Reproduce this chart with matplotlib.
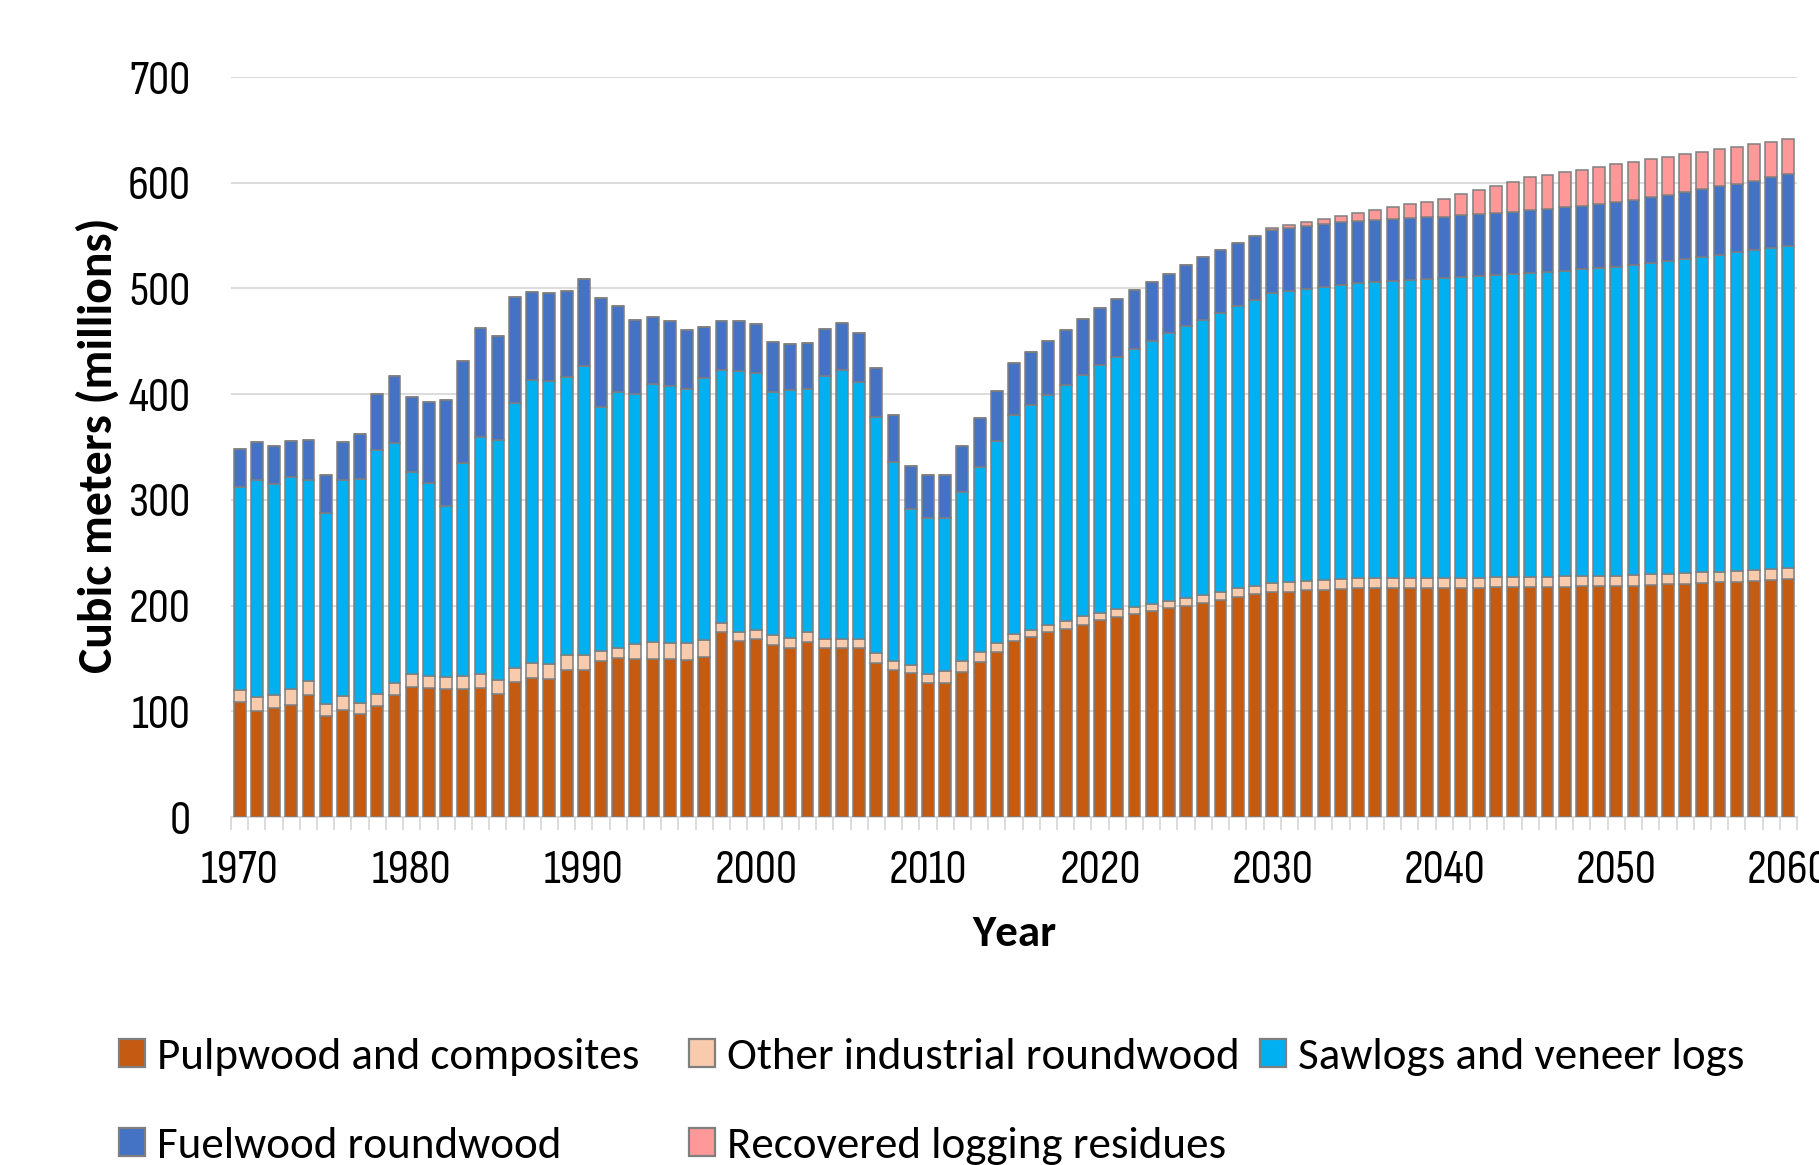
import matplotlib
matplotlib.use("Agg")
import matplotlib.pyplot as plt
from matplotlib import font_manager
from matplotlib.patches import Patch
import numpy as np

years = list(range(1970, 2061))

pulpwood = [108.5, 99.8, 103.4, 105.9, 115.7, 95.1, 101.6, 97.6, 105.2, 115.7,
            123.3, 122.2, 121.1, 121.1, 122.2, 116.8, 127.6, 131.2, 130.2, 139.2,
            139.2, 147.5, 150.0, 149.3, 149.3, 149.3, 148.6, 151.8, 175.3, 166.7,
            168.5, 162.7, 160.2, 165.6, 160.2, 160.2, 160.2, 145.7, 139.2, 135.9,
            126.5, 126.5, 136.7, 146.4, 156.5, 166.7, 170.3, 174.6, 178.2, 181.8,
            186.2, 189.1, 191.6, 194.5, 197.4, 199.9, 202.5, 205.4, 207.9, 210.8,
            212.6, 213.3, 214.4, 215.1, 215.8, 216.9, 216.9, 216.9, 216.9, 216.9,
            216.9, 216.9, 216.9, 217.4, 217.4, 217.4, 217.8, 217.8, 218.3, 218.3,
            218.3, 218.7, 219.6, 220.1, 220.5, 221.4, 221.9, 222.3, 223.2, 224.1,
            225.5]

other_industrial = [11.9, 13.4, 12.3, 15.2, 12.6, 11.6, 13.0, 10.1, 11.6, 11.2,
                    11.5, 11.6, 11.6, 11.9, 12.6, 12.6, 13.4, 14.5, 14.4, 14.5,
                    14.5, 9.8, 10.2, 14.5, 16.3, 15.6, 15.9, 15.6, 8.4, 7.9,
                    8.6, 9.0, 9.0, 9.0, 8.3, 8.3, 8.3, 9.0, 7.9, 8.0,
                    8.3, 12.0, 10.8, 9.4, 8.0, 6.5, 6.8, 7.2, 7.3, 8.0,
                    7.2, 7.2, 7.2, 7.2, 6.9, 7.3, 7.2, 7.9, 8.3, 7.9,
                    8.3, 9.0, 8.7, 9.0, 9.4, 9.0, 9.0, 9.0, 9.0, 9.0,
                    9.5, 9.5, 9.5, 9.4, 9.4, 9.9, 9.5, 9.9, 9.4, 9.9,
                    9.9, 9.9, 10.0, 9.9, 10.0, 10.0, 9.9, 10.4, 10.4, 10.9,
                    10.4]

sawlogs = [191.6, 206.0, 199.6, 200.7, 190.9, 181.1, 204.6, 212.3, 229.9, 226.7,
           191.7, 182.5, 161.2, 201.8, 224.6, 227.1, 250.9, 267.5, 267.9, 262.1,
           272.9, 230.7, 242.2, 236.8, 244.0, 242.9, 240.8, 247.6, 239.3, 247.7,
           242.6, 230.7, 235.0, 230.3, 248.3, 254.5, 242.9, 223.5, 188.4, 147.5,
           147.6, 143.9, 159.8, 175.4, 191.6, 206.8, 212.6, 217.7, 223.4, 228.5,
           234.3, 238.6, 244.1, 248.4, 253.4, 257.4, 260.7, 263.6, 266.8, 270.5,
           274.5, 275.2, 276.7, 277.4, 278.0, 279.1, 280.2, 281.1, 282.5, 283.4,
           283.8, 284.7, 285.6, 286.1, 287.0, 287.4, 288.3, 289.2, 290.6, 291.0,
           292.4, 293.8, 294.6, 296.0, 297.3, 298.7, 300.1, 301.4, 302.8, 303.2,
           304.1]

fuelwood = [36.0, 35.5, 35.7, 33.9, 37.6, 35.8, 35.1, 42.6, 53.9, 63.2,
            71.2, 76.7, 100.9, 96.9, 103.4, 98.3, 100.1, 83.2, 82.8, 81.7,
            82.4, 103.0, 81.0, 69.8, 63.3, 61.8, 55.7, 48.8, 46.3, 46.6,
            46.7, 46.6, 43.7, 43.8, 44.9, 44.5, 46.0, 46.6, 44.8, 40.8,
            41.2, 41.5, 43.4, 45.9, 47.0, 49.9, 50.6, 51.0, 52.1, 52.8,
            54.2, 55.0, 55.3, 55.7, 56.0, 57.4, 58.9, 59.1, 60.4, 60.8,
            59.6, 59.5, 59.6, 59.5, 59.6, 59.0, 58.9, 58.8, 58.3, 58.3,
            57.8, 58.3, 58.3, 58.7, 58.7, 59.2, 59.6, 59.7, 60.1, 60.6,
            61.0, 61.4, 61.9, 62.3, 63.3, 63.7, 64.6, 64.6, 65.5, 66.9,
            67.8]

residues = [0.0] * 60 + [2.0, 3.4, 3.5, 5.0, 5.9, 7.5, 9.2, 10.8, 13.1, 14.4,
                         16.7, 19.8, 23.0, 24.9, 28.0, 31.2, 32.1, 33.4, 33.9, 35.2,
                         36.1, 36.2, 36.1, 36.2, 35.6, 35.2, 35.2, 35.3, 34.3, 33.4,
                         33.9]

series_names = ["Pulpwood and composites", "Other industrial roundwood",
                "Sawlogs and veneer logs", "Fuelwood roundwood",
                "Recovered logging residues"]
series_colors = ["#C55A11", "#F8CBAD", "#00B0F0", "#4472C4", "#FF9999"]
edge_color = "#7F7F7F"
grid_color = "#D9D9D9"

year_ticks = list(range(1970, 2061, 10))

# ---- font selection ----
fonts = font_manager.fontManager.ttflist


def pick(cands, weight=400):
    for c in cands:
        if any(f.name == c and f.weight == weight and f.style == "normal" for f in fonts):
            return c
    return "DejaVu Sans"


body_font = pick(["Carlito", "Lato", "Open Sans"])
bold_font = pick(["Carlito", "Lato", "Open Sans"], 700)
tick_font = pick(["Sofia Sans Condensed", "Archivo Narrow", "Roboto Condensed", "Carlito"])

W, H = 1819, 1165
fig = plt.figure(figsize=(W / 100, H / 100), dpi=100)
renderer = fig.canvas.get_renderer()


def fit_size(text, family, target_px, weight="normal"):
    t = fig.text(0, 0, text, fontsize=100, family=[family, "DejaVu Sans"], fontweight=weight)
    w = t.get_window_extent(renderer).width
    t.remove()
    return 100 * target_px / w


tick_size = fit_size("1970", tick_font, 78)
legend_size = fit_size("Pulpwood and composites", body_font, 483)
ylabel_size = fit_size("Cubic meters (millions)", bold_font, 455, "bold")
xlabel_size = fit_size("Year", bold_font, 84, "bold")

ax_left, ax_right, ax_bottom, ax_top = 231, 1797, 817, 77
ax = fig.add_axes([ax_left / W, 1 - ax_bottom / H, (ax_right - ax_left) / W,
                   (ax_bottom - ax_top) / H])

x = np.arange(len(years))
data = [pulpwood, other_industrial, sawlogs, fuelwood, residues]
bottom = np.zeros(len(years))
handles = []
for vals, name, col in zip(data, series_names, series_colors):
    v = np.array(vals)
    ax.bar(x, v, width=0.69, bottom=bottom, color=col, edgecolor=edge_color,
           linewidth=1.1, zorder=3)
    bottom += v
    handles.append(Patch(facecolor=col, edgecolor=edge_color, linewidth=1.6, label=name))

ax.set_xlim(-0.5, len(years) - 0.5)
ax.set_ylim(0, 700)
ax.set_yticks(range(0, 701, 100))
ax.yaxis.grid(True, color=grid_color, linewidth=1.3)
ax.set_axisbelow(True)

ax.set_xticks([years.index(y) for y in year_ticks])
ax.set_xticklabels([str(y) for y in year_ticks])
ax.set_xticks(np.arange(-0.5, len(years), 1.0), minor=True)
ax.tick_params(axis="x", which="major", length=0, pad=24, labelsize=tick_size)
ax.tick_params(axis="x", which="minor", length=9, width=1.3, color=grid_color)
ax.tick_params(axis="y", length=0, pad=29, labelsize=tick_size)
for lab in ax.get_xticklabels() + ax.get_yticklabels():
    lab.set_family([tick_font, "DejaVu Sans"])

for s in ["top", "right", "left"]:
    ax.spines[s].set_visible(False)
ax.spines["bottom"].set_color(grid_color)
ax.spines["bottom"].set_linewidth(1.3)

ax.set_ylabel("Cubic meters (millions)", fontsize=ylabel_size, fontweight="bold",
              family=[bold_font, "DejaVu Sans"])
ax.yaxis.set_label_coords((120 - ax_left) / (ax_right - ax_left),
                          (ax_bottom - 445) / (ax_bottom - ax_top))
ax.set_xlabel("Year", fontsize=xlabel_size, fontweight="bold",
              family=[bold_font, "DejaVu Sans"])
ax.xaxis.label.set_va("baseline")
ax.xaxis.set_label_coords(0.5, (ax_bottom - 946) / (ax_bottom - ax_top))

leg_kw = dict(frameon=False, handlelength=0.57, handleheight=0.57,
              handletextpad=0.27, borderaxespad=0, borderpad=0,
              prop={"family": [body_font, "DejaVu Sans"], "size": legend_size})
positions = [(119, 1057), (689, 1057), (1260, 1057), (119, 1146), (689, 1146)]
for h, (px, py) in zip(handles, positions):
    fig.legend(handles=[h], loc="center left", bbox_to_anchor=(px / W, 1 - py / H), **leg_kw)

fig.savefig("out.png", dpi=100)
